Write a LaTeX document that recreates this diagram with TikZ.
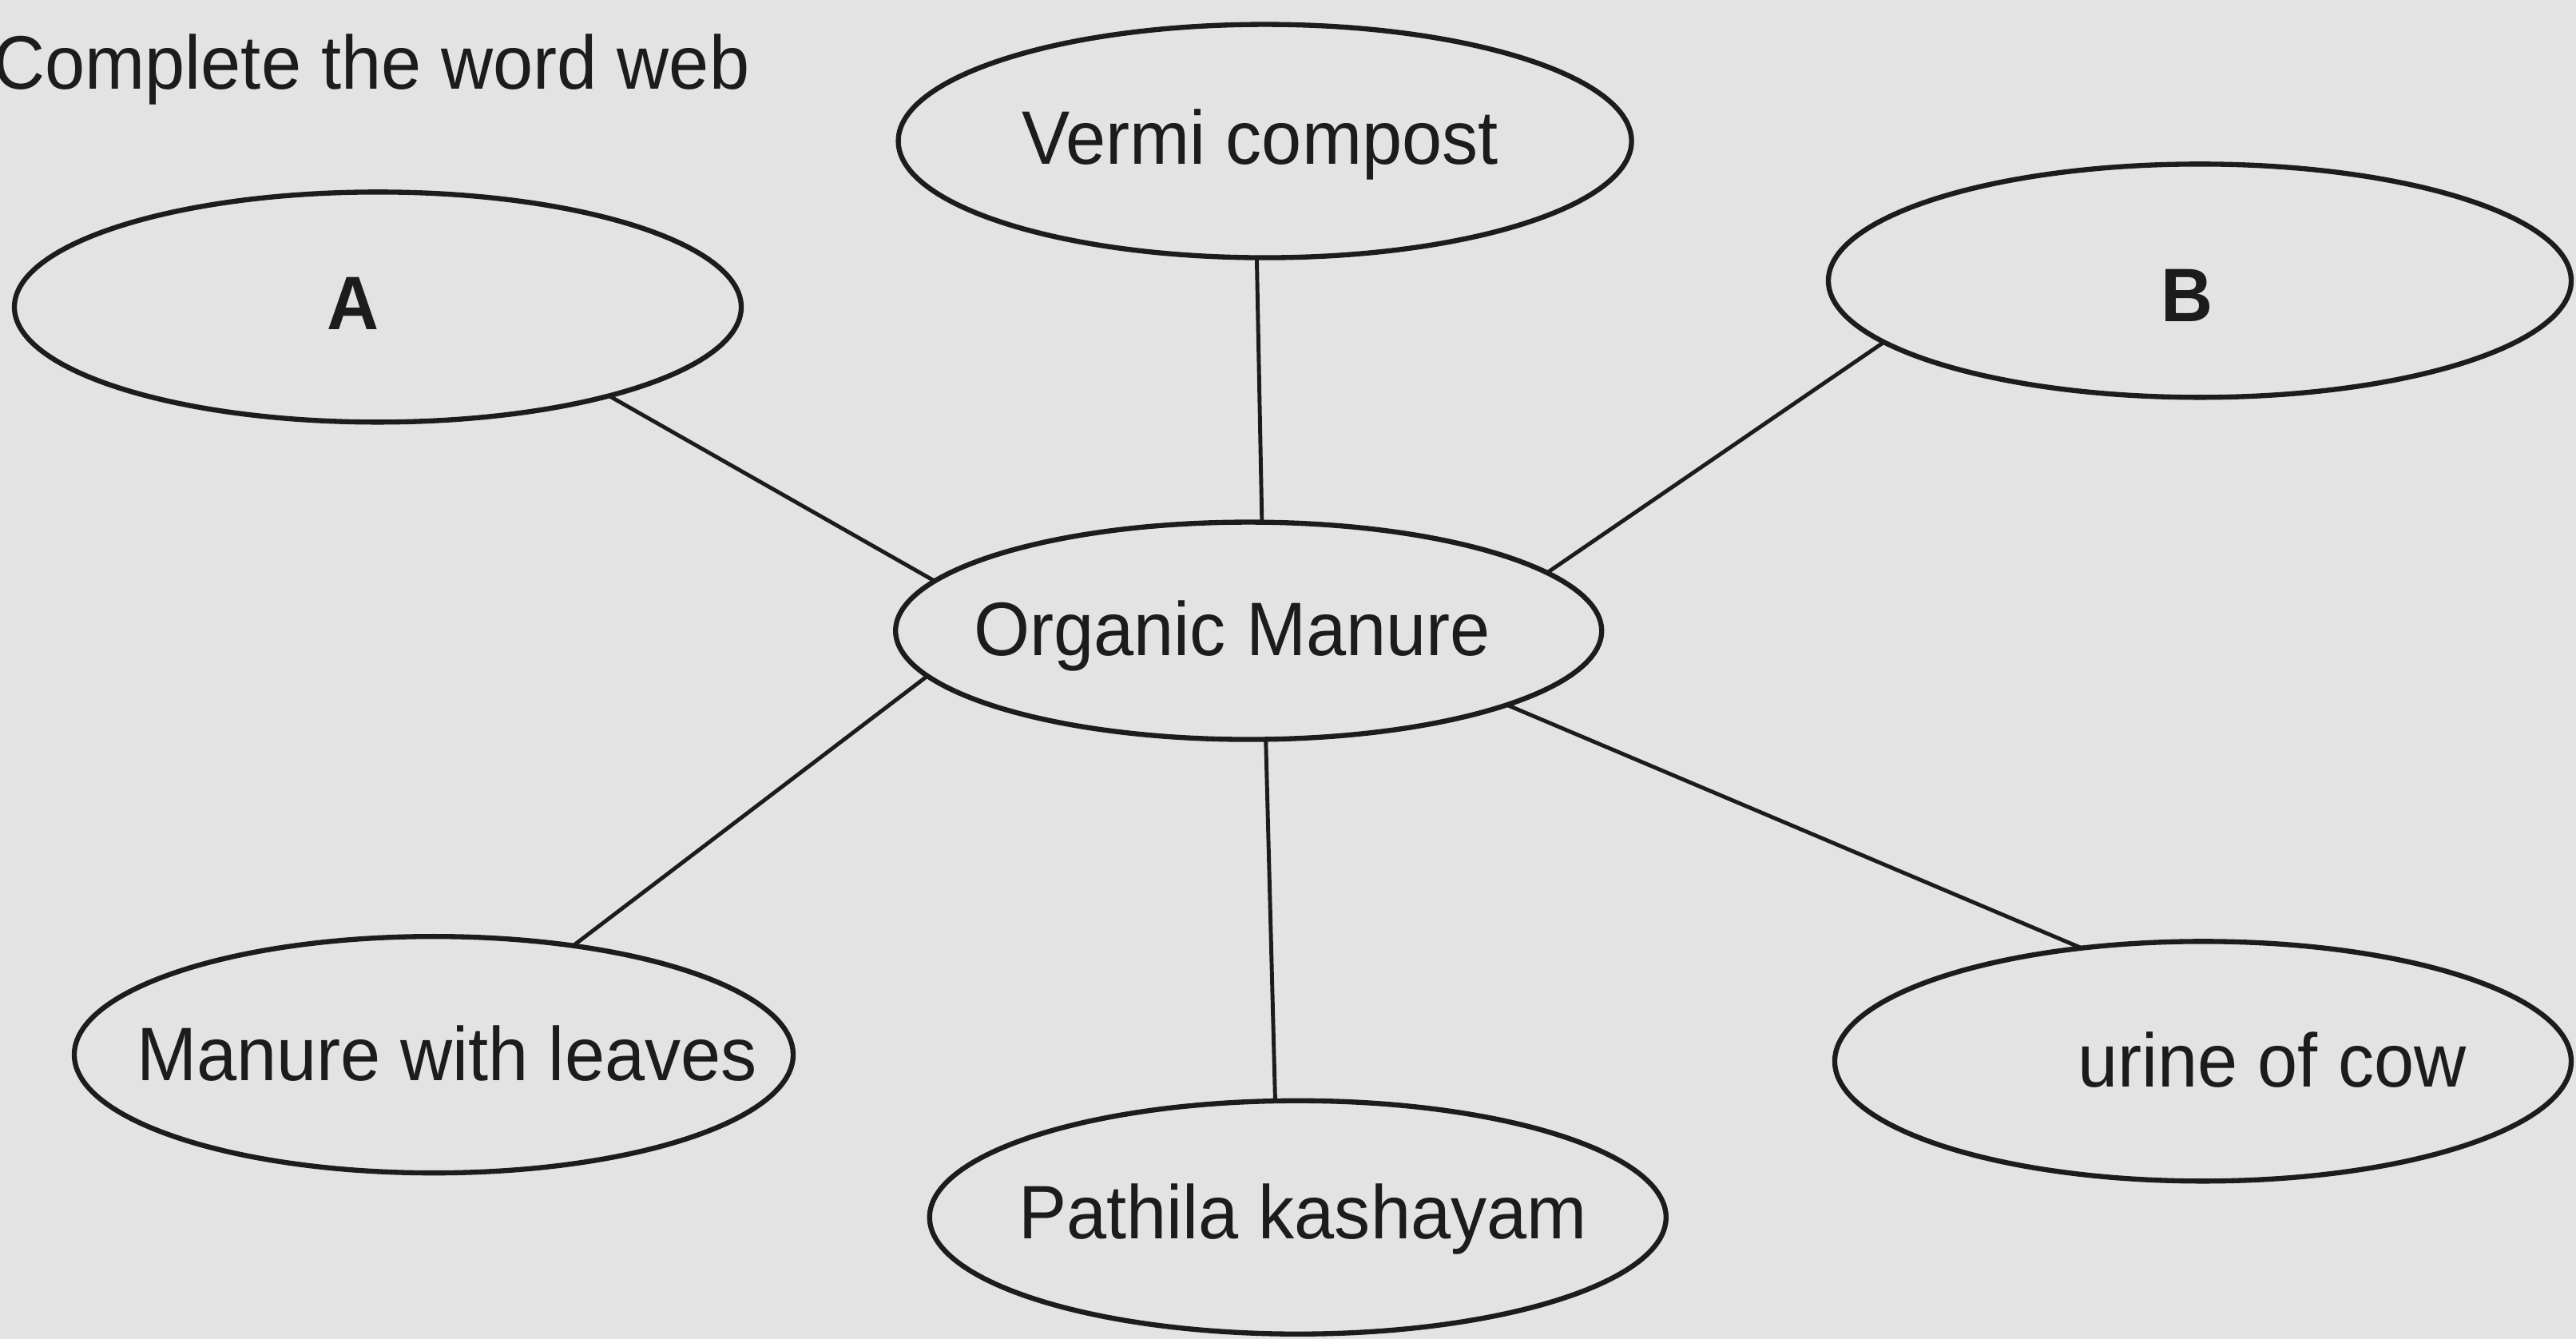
\documentclass[tikz,border=0pt]{standalone}
\usepackage{fontspec}
\setmainfont[FakeStretch=0.95]{Liberation Sans}
\usetikzlibrary{shapes.geometric}
\definecolor{paper}{RGB}{227,227,227}
\definecolor{ink}{RGB}{28,28,28}
\tikzstyle{bubble}=[ellipse, draw=ink, line width=0.9pt, inner sep=0pt, outer sep=0pt]
\tikzstyle{word}=[text=ink, inner sep=0pt, font=\fontsize{13.5}{16}\selectfont]
\tikzstyle{spoke}=[draw=ink, line width=0.7pt]

\begin{document}
\begin{tikzpicture}
            \fill[paper] (0,0) rectangle (16.125,8.38);
            \useasboundingbox (0,0) rectangle (16.125,8.38);

            \node[word, anchor=base west] (title) at (-0.05,7.82) {Complete the word web};

            \node[bubble, minimum width=4.55cm, minimum height=1.44cm] (a) at (2.365,6.458) {};
            \node[bubble, minimum width=4.59cm, minimum height=1.46cm] (vermi) at (7.918,7.497) {};
            \node[bubble, minimum width=4.65cm, minimum height=1.46cm] (b) at (13.770,6.623) {};
            \node[bubble, minimum width=4.42cm, minimum height=1.36cm] (om) at (7.816,4.432) {};
            \node[bubble, minimum width=4.50cm, minimum height=1.48cm] (leaves) at (2.715,1.779) {};
            \node[bubble, minimum width=4.61cm, minimum height=1.46cm] (pathila) at (8.124,0.761) {};
            \node[bubble, minimum width=4.61cm, minimum height=1.50cm] (cow) at (13.790,1.738) {};

            \node[word] (ta) at (2.211,6.479) {\bfseries A};
            \node[word] (tvermi) at (7.888,7.476) {Vermi compost};
            \node[word] (tb) at (13.688,6.530) {\bfseries B};
            \node[word] (tom) at (7.713,4.401) {Organic Manure};
            \node[word] (tleaves) at (2.797,1.789) {Manure with leaves};
            \node[word] (tpathila) at (8.155,0.751) {Pathila kashayam};
            \node[word] (tcow) at (14.222,1.748) {urine of cow};

            \draw[spoke] (om.171) -- (a.-21);
            \draw[spoke] (om.83) -- (vermi.-94);
            \draw[spoke] (om.11) -- (b.191);
            \draw[spoke] (om.188) -- (leaves.38);
            \draw[spoke] (om.-81) -- (pathila.101);
            \draw[spoke] (om.-16) -- (cow.137);
        \end{tikzpicture}
\end{document}
